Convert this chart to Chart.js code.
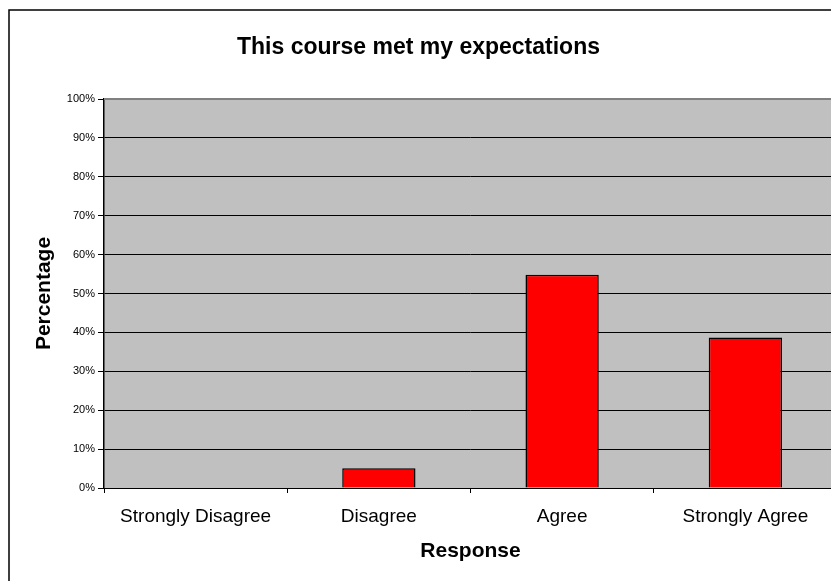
<!DOCTYPE html>
<html><head><meta charset="utf-8">
<script src="https://cdn.jsdelivr.net/npm/chart.js@4"></script>
<style>
html,body{margin:0;padding:0;overflow:hidden;background:#fff;width:831px;height:581px}
#wrap{position:absolute;left:0;top:0;width:860px;height:581px}
canvas{display:block}
</style></head><body>
<div id="wrap"><canvas id="c" width="860" height="581" style="width:860px;height:581px"></canvas></div>
<script>
const categories = ['Strongly Disagree', 'Disagree', 'Agree', 'Strongly Agree'];
const percentages = [0, 5.1, 54.8, 38.7];
const yTickValues = [0, 10, 20, 30, 40, 50, 60, 70, 80, 90, 100];
const yTickLabels = ['0%', '10%', '20%', '30%', '40%', '50%', '60%', '70%', '80%', '90%', '100%'];
const chartTitle = 'This course met my expectations';
const xTitle = 'Response';
const yTitle = 'Percentage';

const FONT = '"Liberation Sans", Arial, Helvetica, sans-serif';

const framePlugin = {
  id: 'frame',
  beforeDraw(chart) {
    const ctx = chart.ctx, a = chart.chartArea;
    ctx.save();
    ctx.fillStyle = '#ffffff';
    ctx.fillRect(0, 0, chart.width, chart.height);
    ctx.strokeStyle = '#000000';
    ctx.lineWidth = 1.5;
    ctx.strokeRect(9, 10, 2000, 2000);
    ctx.fillStyle = '#C0C0C0';
    ctx.fillRect(a.left, a.top, a.right - a.left, a.bottom - a.top);
    ctx.restore();
  },
  afterDatasetsDraw(chart) {
    const ctx = chart.ctx, a = chart.chartArea;
    ctx.save();
    ctx.strokeStyle = '#808080';
    ctx.lineWidth = 2;
    ctx.beginPath();
    ctx.moveTo(a.left, a.top);
    ctx.lineTo(a.right, a.top);
    ctx.stroke();
    ctx.restore();
  }
};

new Chart(document.getElementById('c'), {
  type: 'bar',
  data: {
    labels: categories,
    datasets: [{
      data: percentages,
      backgroundColor: '#FF0000',
      borderColor: '#000000',
      borderWidth: 1.5,
      categoryPercentage: 1.0,
      barPercentage: 0.4
    }]
  },
  options: {
    responsive: false,
    animation: false,
    devicePixelRatio: 1,
    layout: { padding: { left: 0, right: 23, top: 0, bottom: 13 } },
    plugins: {
      legend: { display: false },
      tooltip: { enabled: false },
      title: {
        display: true,
        text: chartTitle,
        color: '#000000',
        font: { family: FONT, size: 23, weight: 'bold' },
        padding: { top: 34, bottom: 37.4 }
      }
    },
    scales: {
      x: {
        offset: true,
        grid: {
          offset: true,
          drawOnChartArea: false,
          drawTicks: true,
          tickLength: 5,
          color: '#000000'
        },
        border: { display: true, color: '#000000', width: 1 },
        ticks: {
          color: '#000000',
          padding: 12.6,
          maxRotation: 0,
          autoSkip: false,
          font: { family: FONT, size: 19 }
        },
        title: {
          display: true,
          text: xTitle,
          color: '#000000',
          font: { family: FONT, size: 21, weight: 'bold' },
          padding: { top: 0, bottom: 4.4 }
        },
        afterFit(scale) { scale.height = 80; }
      },
      y: {
        min: 0,
        max: 100,
        afterBuildTicks(scale) { scale.ticks = yTickValues.map(v => ({ value: v })); },
        grid: {
          color: '#000000',
          lineWidth: 1,
          drawTicks: true,
          tickLength: 6
        },
        border: { display: true, color: '#000000', width: 1.5 },
        ticks: {
          color: '#000000',
          padding: 3,
          font: { family: FONT, size: 11 },
          callback(value) { const i = yTickValues.indexOf(value); return i >= 0 ? yTickLabels[i] : ''; }
        },
        title: {
          display: true,
          text: yTitle,
          color: '#000000',
          font: { family: FONT, size: 21, weight: 'bold' },
          padding: { top: 31.4, bottom: 0 }
        },
        afterFit(scale) { scale.width = 104; }
      }
    }
  },
  plugins: [framePlugin]
});
</script>
</body></html>
